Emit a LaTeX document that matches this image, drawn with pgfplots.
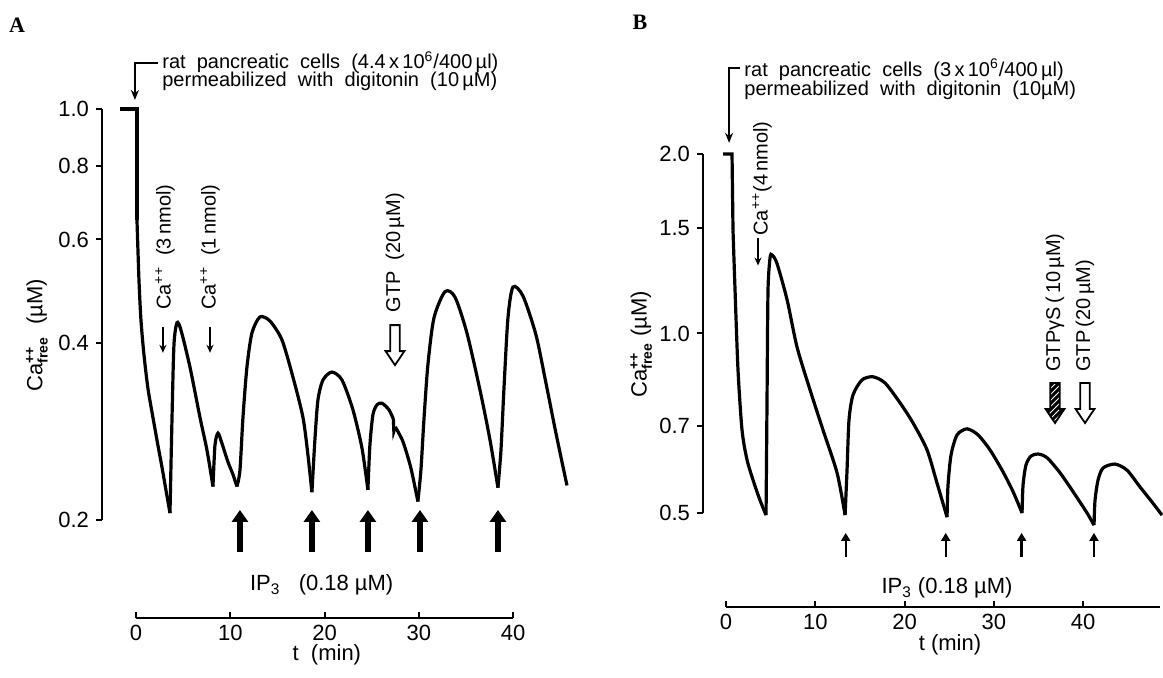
\documentclass[border=0pt]{standalone}
\usepackage{pgfplots}
\pgfplotsset{compat=1.18}
\usepackage{fontspec}
\setmainfont{Liberation Sans}
\newfontfamily\serifbf{Liberation Serif}
\usetikzlibrary{arrows.meta,patterns}
% fat arrow pointing down, #1 = top point, #2 = style
\newcommand{\fatarrow}[2]{%
  \draw[#2] #1 ++(-2.4pt,0pt) -- ++(0pt,-13pt) -- ++(-2.3pt,0pt) -- ++(4.7pt,-7pt) -- ++(4.7pt,7pt) -- ++(-2.3pt,0pt) -- ++(0pt,13pt) -- cycle;}
\tikzset{ann/.style={font=\fontsize{10}{12}\selectfont, inner sep=0pt}}
\begin{document}
\begin{tikzpicture}
\useasboundingbox (0,0) rectangle (581.5pt,338.5pt);
\pgfplotsset{
  every axis/.append style={font=\fontsize{11}{13}\selectfont, clip=false, scale only axis,
     axis line style={line width=1pt}},
  every tick/.style={line width=1pt, black},
  curve/.style={line width=1.6pt, black, no markers},
  sm/.style={curve, smooth, tension=0.45},
}
\node[font=\serifbf\bfseries\fontsize{11}{13}\selectfont] at (8.5pt,326pt) {A};
\node[font=\serifbf\bfseries\fontsize{11}{13}\selectfont] at (320pt,327.5pt) {B};

% ================= Panel A =================
\begin{axis}[
  at={(51pt,78.5pt)}, anchor=south west,
  width=233.85pt, height=205.5pt,
  xmin=-3.6, xmax=46, ymode=log, ymin=0.2, ymax=1.0,
  axis x line=none, axis y line*=left, xtick=\empty,
  ytick={0.2,0.4,0.6,0.8,1.0}, yticklabels={0.2,0.4,0.6,0.8,1.0},
  tick align=outside, major tick length=3pt,
  ylabel={Ca$^{\mbox{\scriptsize\bfseries ++}}_{\mbox{\scriptsize\bfseries free}}$\ \ (µM)},
  every axis y label/.style={at={(axis description cs:-0.139,0.45)}, rotate=90, anchor=center},
]
\addplot[curve] coordinates {(-1.7,1.0) (0.11,1.0) (0.11,0.647)};
\addplot[sm] coordinates {(0.11,0.647) (0.32,0.512) (0.53,0.438) (0.85,0.382) (1.27,0.335) (1.80,0.299) (2.33,0.268) (2.76,0.246) (3.18,0.225) (3.61,0.2055)};
\addplot[sm] coordinates {(3.61,0.2055) (3.82,0.296) (4.03,0.397) (4.35,0.433) (4.77,0.421) (5.73,0.364) (6.79,0.299) (7.53,0.263) (8.17,0.228)};
\addplot[sm] coordinates {(8.17,0.228) (8.38,0.268) (8.70,0.281) (9.12,0.270) (9.76,0.251) (10.29,0.239) (10.71,0.228)};
\addplot[sm] coordinates {(10.71,0.228) (11.03,0.243) (11.35,0.299) (11.77,0.364) (12.30,0.416) (13.15,0.443) (14.21,0.436) (15.48,0.405) (16.65,0.350) (17.71,0.299) (18.24,0.258) (18.66,0.223)};
\addplot[sm] coordinates {(18.66,0.223) (18.98,0.274) (19.30,0.320) (19.83,0.346) (20.78,0.357) (21.85,0.346) (23.01,0.308) (23.97,0.265) (24.60,0.225)};
\addplot[sm] coordinates {(24.60,0.225) (24.81,0.268) (25.13,0.302) (25.56,0.314) (26.09,0.316) (26.83,0.308) (27.30,0.297)};
\addplot[curve] coordinates {(27.30,0.297) (27.35,0.283) (27.50,0.288)};
\addplot[sm] coordinates {(27.50,0.288) (28.31,0.272) (29.16,0.245) (29.90,0.215)};
\addplot[sm] coordinates {(29.90,0.215) (30.22,0.243) (30.54,0.296) (30.96,0.367) (31.60,0.441) (32.77,0.489) (33.83,0.479) (35.10,0.416) (36.48,0.333) (37.54,0.274) (38.39,0.227)};
\addplot[sm] coordinates {(38.39,0.227) (38.71,0.263) (39.02,0.333) (39.45,0.441) (39.98,0.498) (41.04,0.481) (42.42,0.413) (43.48,0.342) (44.54,0.281) (45.71,0.229)};
% annotations
\draw[line width=0.9pt, -{Stealth[length=5pt,width=4pt]}] (axis cs:2.33,1.197) -- (axis cs:-0.11,1.197) -- (axis cs:-0.11,1.036);
\node[ann, anchor=west] at (axis cs:2.76,1.20) {rat\ \ pancreatic\ \ cells\ \ (4.4\,x\,10\textsuperscript{6}/400\,µl)};
\node[ann, anchor=west] at (axis cs:2.76,1.113) {permeabilized\ \ with\ \ digitonin\ \ (10\,µM)};
\node[ann, rotate=90, anchor=west] at (axis cs:3.08,0.455) {Ca\textsuperscript{++}\ \ (3\,nmol)};
\draw[line width=1pt, -{Stealth[length=4pt,width=3.5pt]}] (axis cs:2.86,0.426) -- (axis cs:2.86,0.385);
\node[ann, rotate=90, anchor=west] at (axis cs:7.85,0.455) {Ca\textsuperscript{++}\ \ (1\,nmol)};
\draw[line width=1pt, -{Stealth[length=4pt,width=3.5pt]}] (axis cs:7.85,0.426) -- (axis cs:7.85,0.385);
\node[ann, rotate=90, anchor=west] at (axis cs:27.47,0.450) {GTP\ \ (20\,µM)};
\fatarrow{(axis cs:27.47,0.429)}{line width=0.9pt, fill=white}
\pgfplotsinvokeforeach{11.03,18.66,24.60,30.12,38.39}{
  \draw[line width=3pt, -{Triangle[length=6pt,width=8pt]}] (axis cs:#1,0.1764) -- (axis cs:#1,0.208);
}
\node[font=\fontsize{11}{13}\selectfont] at (axis cs:19.7,0.155) {IP\textsubscript{3}\ \ \ (0.18 µM)};
\end{axis}
\begin{axis}[
  at={(68pt,29.5pt)}, anchor=south west,
  width=188.6pt, height=20pt,
  xmin=0, xmax=40, ymin=0, ymax=1,
  axis x line*=bottom, axis y line=none,
  xtick={0,10,20,30,40}, xticklabels={0,10,20,30,40},
  xtick align=inside, major tick length=3pt,
  xlabel={t\ \ (min)},
  every axis x label/.style={at={(axis description cs:0.506,0)}, anchor=center, yshift=-18.5pt},
]
\end{axis}

% ================= Panel B =================
\begin{axis}[
  at={(351.5pt,82pt)}, anchor=south west,
  width=230.3pt, height=179.5pt,
  xmin=-2.58, xmax=49, ymode=log, ymin=0.5, ymax=2.0,
  axis x line=none, axis y line*=left, xtick=\empty,
  ytick={0.5,0.7,1.0,1.5,2.0}, yticklabels={0.5,0.7,1.0,1.5,2.0},
  tick align=outside, major tick length=3pt,
  ylabel={Ca$^{\mbox{\scriptsize\bfseries ++}}_{\mbox{\scriptsize\bfseries free}}$\ (µM)},
  every axis y label/.style={at={(axis description cs:-0.134,0.47)}, rotate=90, anchor=center},
]
\addplot[curve] coordinates {(-0.34,2.0) (0.67,2.0) (0.78,1.49)};
\addplot[sm] coordinates {(0.78,1.49) (1.01,1.18) (1.34,0.869) (1.79,0.689) (2.35,0.614) (3.14,0.561) (3.81,0.525) (4.48,0.496)};
\addplot[sm] coordinates {(4.48,0.496) (4.59,0.774) (4.70,1.18) (4.93,1.34) (5.15,1.355) (5.71,1.31) (6.83,1.14) (7.95,0.949) (9.41,0.804) (10.86,0.689) (12.43,0.584) (13.33,0.496)};
\addplot[sm] coordinates {(13.33,0.496) (13.55,0.590) (13.77,0.716) (14.22,0.789) (15.23,0.836) (16.46,0.846) (17.81,0.826) (19.49,0.765) (20.94,0.708) (22.51,0.638) (23.63,0.561) (24.75,0.492)};
\addplot[sm] coordinates {(24.75,0.492) (24.86,0.557) (25.20,0.626) (25.87,0.676) (26.99,0.692) (28.22,0.676) (29.56,0.638) (31.02,0.586) (32.14,0.543) (33.15,0.500)};
\addplot[sm] coordinates {(33.15,0.500) (33.26,0.557) (33.59,0.602) (34.15,0.623) (34.94,0.628) (35.95,0.619) (37.40,0.584) (38.86,0.543) (40.43,0.500) (41.21,0.477)};
\addplot[sm] coordinates {(41.21,0.477) (41.32,0.525) (41.66,0.568) (42.22,0.595) (43.56,0.604) (44.90,0.590) (46.36,0.553) (47.82,0.519) (48.82,0.496)};
% annotations
\draw[line width=0.9pt, -{Stealth[length=5pt,width=4pt]}] (axis cs:1.6,2.79) -- (axis cs:0.34,2.79) -- (axis cs:0.34,2.088);
\node[ann, anchor=west] at (axis cs:2.02,2.77) {rat\ \ pancreatic\ \ cells\ \ (3\,x\,10\textsuperscript{6}/400\,µl)};
\node[ann, anchor=west] at (axis cs:2.02,2.56) {permeabilized\ \ with\ \ digitonin\ \ (10µM)};
\node[ann, rotate=90, anchor=west] at (axis cs:4.03,1.458) {Ca\textsuperscript{++}(4\,nmol)};
\draw[line width=1pt, -{Stealth[length=4pt,width=3.5pt]}] (axis cs:3.58,1.447) -- (axis cs:3.58,1.30);
\node[ann, rotate=90, anchor=west] at (axis cs:36.84,0.862) {GTPγS\,(\,10\,µM)};
\fatarrow{(axis cs:36.84,0.826)}{line width=0.9pt, preaction={fill=black}, pattern=north east lines, pattern color=white}
\node[ann, rotate=90, anchor=west] at (axis cs:40.2,0.862) {GTP\,(20\,µM)};
\fatarrow{(axis cs:40.2,0.826)}{line width=0.9pt, fill=white}
\pgfplotsinvokeforeach{13.4,24.6,33.1,41.2}{
  \draw[line width=1.2pt, -{Triangle[length=4pt,width=4.5pt]}] (axis cs:#1,0.422) -- (axis cs:#1,0.463);
}
\node[font=\fontsize{11}{13}\selectfont] at (axis cs:24.75,0.374) {IP\textsubscript{3} (0.18 µM)};
\end{axis}
\begin{axis}[
  at={(363pt,35pt)}, anchor=south west,
  width=217pt, height=20pt,
  xmin=0, xmax=48.6, ymin=0, ymax=1,
  axis x line*=bottom, axis y line=none,
  xtick={0,10,20,30,40}, xticklabels={0,10,20,30,40},
  xtick align=inside, major tick length=3pt,
  xlabel={t (min)},
  every axis x label/.style={at={(axis description cs:0.516,0)}, anchor=center, yshift=-19pt},
]
\end{axis}
\end{tikzpicture}
\end{document}
